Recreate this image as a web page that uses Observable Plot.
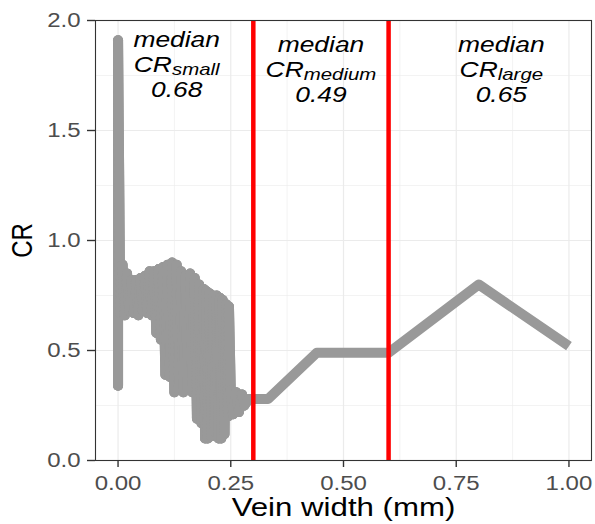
<!DOCTYPE html>
<html><head><meta charset="utf-8">
<script src="https://cdn.jsdelivr.net/npm/d3@7"></script>
<script src="https://cdn.jsdelivr.net/npm/@observablehq/plot@0.6"></script>
<style>body{margin:0;background:#fff}</style>
</head><body><div id="chart"></div>
<script>
const veinWidth = [0, 0, 0,
  0.005, 0.010, 0.015, 0.020, 0.025, 0.030, 0.035, 0.040, 0.045, 0.050,
  0.055, 0.060, 0.065, 0.070, 0.075, 0.080, 0.085, 0.090, 0.095, 0.100,
  0.105, 0.110, 0.115, 0.120, 0.125, 0.130, 0.135, 0.140, 0.145, 0.150,
  0.155, 0.160, 0.165, 0.170, 0.175, 0.180, 0.185, 0.190, 0.193, 0.196,
  0.199, 0.203, 0.207, 0.211, 0.215, 0.219, 0.223, 0.226, 0.229, 0.232,
  0.236, 0.240, 0.244, 0.246,
  0.250, 0.255, 0.262, 0.268, 0.275, 0.280, 0.290, 0.333, 0.441, 0.600, 0.800, 1.000];
const cr = [0.70, 0.34, 1.91,
  0.67, 0.89, 0.66, 0.85, 0.68, 0.82, 0.67, 0.82, 0.66, 0.83,
  0.68, 0.84, 0.67, 0.86, 0.66, 0.86, 0.58, 0.87, 0.55, 0.88,
  0.39, 0.89, 0.38, 0.90, 0.31, 0.89, 0.32, 0.86, 0.31, 0.84,
  0.32, 0.85, 0.31, 0.83, 0.19, 0.80, 0.17, 0.78, 0.10, 0.77,
  0.10, 0.76, 0.11, 0.75, 0.13, 0.75, 0.10, 0.74, 0.10, 0.73,
  0.12, 0.71, 0.20, 0.70,
  0.32, 0.21, 0.31, 0.22, 0.30, 0.25, 0.28, 0.28, 0.49, 0.49, 0.80, 0.52];

const xTicks = [0, 0.25, 0.5, 0.75, 1];
const xMinor = [0.125, 0.375, 0.625, 0.875];
const yTicks = [0, 0.5, 1, 1.5, 2];
const yMinor = [0.25, 0.75, 1.25, 1.75];
const cutoffs = [0.3, 0.6];
const groupNames = ["small", "medium", "large"];
const groupMedians = [0.68, 0.49, 0.65];
const labelX = [0.13, 0.45, 0.85];
const labelY = [1.797, 1.774, 1.774];

const lineData = veinWidth.map((x, i) => ({x, y: cr[i]}));
// consecutive segments in the dense part, drawn as separate strokes so overlaps stay solid
const segments = lineData.slice(1).map((d, i) => ({x1: lineData[i].x, y1: lineData[i].y, x2: d.x, y2: d.y}))
  .filter(s => s.x2 < 0.3);
const groups = groupNames.map((name, i) => ({name, median: groupMedians[i], x: labelX[i], y: labelY[i]}));

const font = "'Liberation Sans', Arial, Helvetica, sans-serif";
const annot = {x: "x", y: "y", fontSize: 22, fontStyle: "italic", fill: "black", textAnchor: "middle"};

const plot = Plot.plot({
  width: 595, height: 524,
  marginLeft: 95, marginRight: 4, marginTop: 20, marginBottom: 64,
  style: {fontFamily: font, background: "#fff"},
  x: {domain: [-0.05, 1.05]},
  y: {domain: [0, 2]},
  marks: [
    Plot.gridX(xMinor, {stroke: "#EBEBEB", strokeOpacity: 1, strokeWidth: 0.6}),
    Plot.gridY(yMinor, {stroke: "#EBEBEB", strokeOpacity: 1, strokeWidth: 0.6}),
    Plot.gridX(xTicks, {stroke: "#EBEBEB", strokeOpacity: 1, strokeWidth: 1.2}),
    Plot.gridY(yTicks, {stroke: "#EBEBEB", strokeOpacity: 1, strokeWidth: 1.2}),
    Plot.line(lineData, {x: "x", y: "y", stroke: "#999999", strokeWidth: 10, strokeLinejoin: "round", strokeLinecap: "butt"}),
    Plot.link(segments, {x1: "x1", y1: "y1", x2: "x2", y2: "y2", stroke: "#999999", strokeWidth: 10, strokeLinecap: "round"}),
    Plot.ruleX(cutoffs, {stroke: "#FF0000", strokeWidth: 4.5}),
    Plot.text(groups, {...annot, text: d => "median", dy: -25}),
    Plot.text(groups, {...annot, text: d => "CR_" + d.name}),
    Plot.text(groups, {...annot, text: d => d.median.toFixed(2), dy: 25}),
    Plot.frame({stroke: "#333333", strokeWidth: 1.1}),
    Plot.axisX({ticks: xTicks, tickFormat: d => d.toFixed(2), tickSize: 7, tickPadding: 8, fontSize: 20, label: null, stroke: "#333333", strokeWidth: 1.4, fill: "#4D4D4D"}),
    Plot.axisY({ticks: yTicks, tickFormat: d => d.toFixed(1), tickSize: 8, tickPadding: 7, fontSize: 20, label: null, stroke: "#333333", strokeWidth: 1.4, fill: "#4D4D4D"}),
    Plot.text(["Vein width (mm)"], {text: d => d, frameAnchor: "bottom", lineAnchor: "middle", textAnchor: "middle", dy: 47, fontSize: 26, fill: "black"}),
    Plot.text(["CR"], {text: d => d, frameAnchor: "left", lineAnchor: "middle", textAnchor: "middle", dx: -72.5, rotate: -90, fontSize: 24, fill: "black"})
  ]
});
document.getElementById("chart").append(plot);

const ns = "http://www.w3.org/2000/svg";
for (const t of plot.querySelectorAll("text")) {
  const s = t.textContent;
  if (s.startsWith("CR_")) {
    t.textContent = "";
    const a = document.createElementNS(ns, "tspan");
    a.textContent = "CR";
    const b = document.createElementNS(ns, "tspan");
    b.textContent = s.slice(3);
    b.setAttribute("font-size", "17");
    b.setAttribute("dy", "3");
    t.append(a, b);
  }
}
for (const t of plot.querySelectorAll("text")) {
  if (t.textContent === "CR") {
    const tr = t.getAttribute("transform") || "";
    t.setAttribute("transform", tr + " scale(1,1.2)");
    continue;
  }
  const w = t.getComputedTextLength();
  t.setAttribute("textLength", (w * 1.2).toFixed(2));
  t.setAttribute("lengthAdjust", "spacingAndGlyphs");
}
</script>
</body></html>
